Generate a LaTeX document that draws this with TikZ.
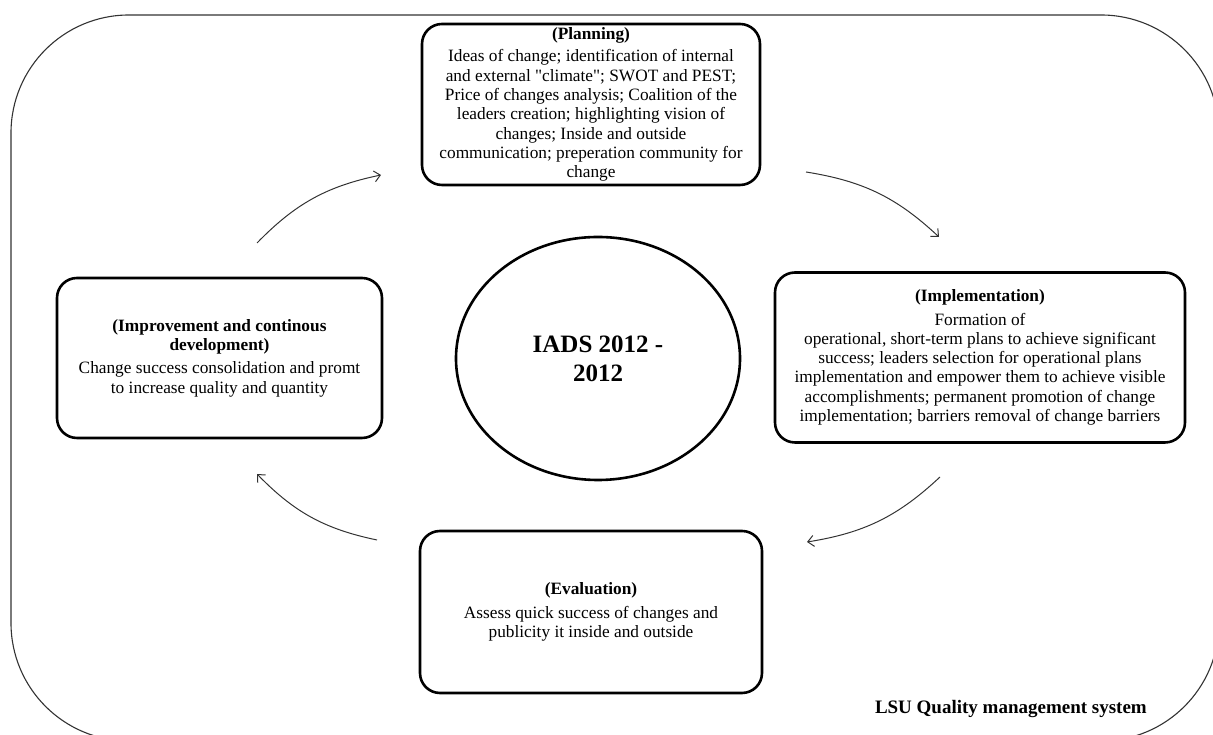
\documentclass[tikz,border=0pt]{standalone}
\usepackage{fontspec}
\setmainfont{Liberation Serif}
\newfontfamily\plainqfont{Liberation Serif}[Ligatures=TeXOff]
\newcommand{\sq}{{\plainqfont\symbol{34}}}
\usetikzlibrary{arrows.meta,shapes.geometric}
\begin{document}
\begin{tikzpicture}[x=1pt,y=1pt,
 stagebox/.style={draw=black, line width=2.6pt, rounded corners=20pt, align=center, inner sep=0pt, font=\fontsize{17.3}{19.3}\selectfont},
 flow/.style={draw=black!80, line width=1pt, -{Straight Barb[length=6pt,width=11pt]}, bend left=17},
]
\useasboundingbox (0,0) rectangle (1213,735);
\begin{scope}
\clip (0,0) rectangle (1213,735);
\draw[line width=1.1pt, black!80, rounded corners=118pt] (11,-6) rectangle (1219,720);
\end{scope}

\node[stagebox, minimum width=338pt, minimum height=161pt] (plan) at (591,630.5)
 {\textbf{(Planning)}\\[3pt]
 Ideas of change; identification of internal\\
 and external \sq climate\sq; SWOT and PEST;\\
 Price of changes analysis; Coalition of the\\
 leaders creation; highlighting vision of\\
 changes; Inside and outside\\
 communication; preperation community for\\
 change};

\node[stagebox, minimum width=410pt, minimum height=170pt] (impl) at (980,377.5)
 {\textbf{(Implementation)}\\[4pt]
 Formation of\\
 operational, short-term plans to achieve significant\\
 success; leaders selection for operational plans\\
 implementation and empower them to achieve visible\\
 accomplishments; permanent promotion of change\\
 implementation; barriers removal of change barriers};

\node[stagebox, minimum width=325pt, minimum height=160pt] (impr) at (219.5,377)
 {\textbf{(Improvement and continous}\\
 \textbf{development)}\\[4pt]
 Change success consolidation and promt\\
 to increase quality and quantity};

\node[stagebox, minimum width=342pt, minimum height=162pt] (eval) at (591,123)
 {\textbf{(Evaluation)}\\[4pt]
 Assess quick success of changes and\\
 publicity it inside and outside};

\node[draw=black, ellipse, line width=2.6pt, minimum width=284pt, minimum height=243pt, inner sep=0pt, align=center, font=\bfseries\fontsize{25}{29}\selectfont] (core) at (598,376.5) {IADS 2012 -\\2012};

\coordinate (a1s) at (257,492); \coordinate (a1e) at (381,560);
\coordinate (a2s) at (806,563); \coordinate (a2e) at (939,498);
\coordinate (a3s) at (940,258); \coordinate (a3e) at (807,193);
\coordinate (a4s) at (377,195); \coordinate (a4e) at (257,261);
\draw[flow] (a1s) to (a1e);
\draw[flow] (a2s) to (a2e);
\draw[flow] (a3s) to (a3e);
\draw[flow] (a4s) to (a4e);

\node[anchor=base east, inner sep=0pt, font=\bfseries\fontsize{19}{22}\selectfont] (sys) at (1147,21) {LSU Quality management system};
\end{tikzpicture}
\end{document}
